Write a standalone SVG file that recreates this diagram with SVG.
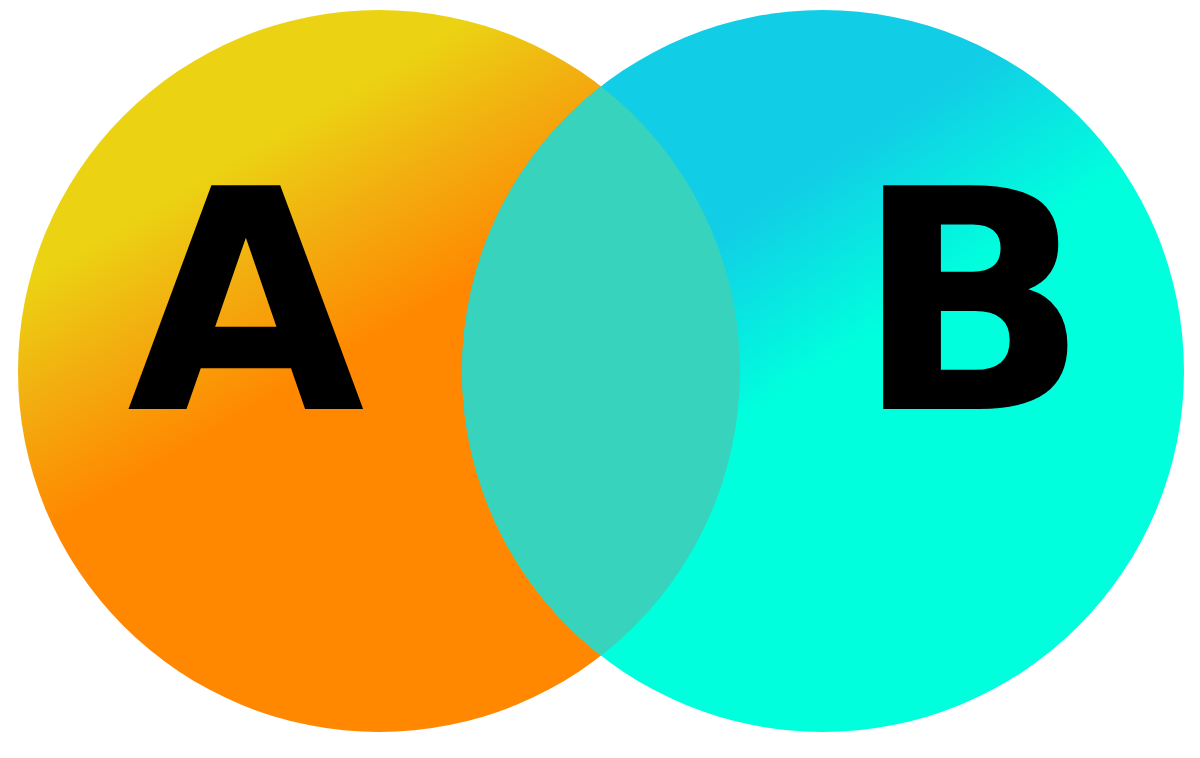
<svg xmlns="http://www.w3.org/2000/svg" width="1200" height="758" viewBox="0 0 1200 758">
<defs>
<linearGradient id="gA" gradientUnits="userSpaceOnUse" x1="195" y1="180" x2="311" y2="376">
<stop offset="0" stop-color="#EBD313"/>
<stop offset="0.45" stop-color="#F2AF10"/>
<stop offset="1" stop-color="#FF8800"/>
</linearGradient>
<linearGradient id="gB" gradientUnits="userSpaceOnUse" x1="845" y1="150" x2="938" y2="292">
<stop offset="0" stop-color="#12CDE6"/>
<stop offset="1" stop-color="#00FFDD"/>
</linearGradient>
<style>
.lbl{font-family:"DejaVu Sans",sans-serif;font-weight:bold;font-size:307px;fill:#000}
</style>
</defs>
<rect width="1200" height="758" fill="#fff"/>
<g id="setA"><circle cx="379" cy="371" r="361" fill="url(#gA)"/></g>
<g id="setB"><circle cx="823" cy="371" r="361" fill="url(#gB)"/></g>
<g id="intersection"><path d="M601 86.3 A361 361 0 0 0 601 655.7 A361 361 0 0 0 601 86.3 Z" fill="#38D3BD"/></g>
<g id="labels">
<text class="lbl" x="127" y="409">A</text>
<text class="lbl" x="855" y="409">B</text>
</g>
<g id="connectors"/>
</svg>
